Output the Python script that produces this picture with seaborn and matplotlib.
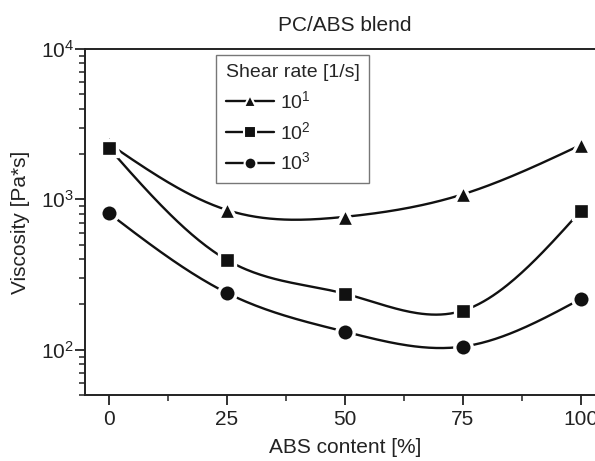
import numpy as np
import matplotlib
matplotlib.use("Agg")
import matplotlib.pyplot as plt
import seaborn as sns
from matplotlib.lines import Line2D
from matplotlib.ticker import LogLocator, FixedLocator, NullFormatter

# data
abs_content = [0, 25, 50, 75, 100]
visc_10 = [2350, 850, 765, 1080, 2300]
visc_100 = [2200, 396, 236, 182, 840]
visc_1000 = [810, 239, 132, 105, 218]
series_labels = [r"10$^1$", r"10$^2$", r"10$^3$"]
series_markers = ["^", "s", "o"]


def natural_spline(x, y, n=200):
    # natural cubic spline through the points (used for the smooth connecting line)
    x = np.asarray(x, float)
    y = np.asarray(y, float)
    k = len(x)
    h = np.diff(x)
    A = np.zeros((k, k))
    b = np.zeros(k)
    A[0, 0] = A[-1, -1] = 1
    for i in range(1, k - 1):
        A[i, i - 1] = h[i - 1]
        A[i, i] = 2 * (h[i - 1] + h[i])
        A[i, i + 1] = h[i]
        b[i] = 6 * ((y[i + 1] - y[i]) / h[i] - (y[i] - y[i - 1]) / h[i - 1])
    m = np.linalg.solve(A, b)
    xs = np.linspace(x[0], x[-1], n)
    idx = np.clip(np.searchsorted(x, xs) - 1, 0, k - 2)
    t = xs - x[idx]
    hi = h[idx]
    a = (m[idx + 1] - m[idx]) / (6 * hi)
    bb = m[idx] / 2
    c = (y[idx + 1] - y[idx]) / hi - hi * (2 * m[idx] + m[idx + 1]) / 6
    ys = y[idx] + c * t + bb * t ** 2 + a * t ** 3
    return xs, ys


sns.set_style("ticks")
plt.rcParams["font.family"] = ["Liberation Sans", "DejaVu Sans"]
plt.rcParams["mathtext.fontset"] = "custom"
plt.rcParams["mathtext.rm"] = "Liberation Sans"
plt.rcParams["mathtext.it"] = "Liberation Sans"

fig = plt.figure(figsize=(5.95, 4.61), dpi=100)
ax = fig.add_axes([0.143, 0.143, 0.873, 0.751])

msizes = {"^": 13, "s": 11.5, "o": 12.5}
handles = []
for vals, mk, lab in zip([visc_10, visc_100, visc_1000], series_markers, series_labels):
    xs, ys = natural_spline(abs_content, np.log10(vals))
    sns.lineplot(x=xs, y=10 ** ys, color="#111111", linewidth=1.7, ax=ax, sort=False)
    ax.plot(abs_content, vals, linestyle="none", marker=mk, markersize=msizes[mk],
            markerfacecolor="#111111", markeredgecolor="white", markeredgewidth=2.4, zorder=5)
    handles.append(Line2D([], [], color="#111111", linewidth=1.7, marker=mk, markersize=8.5,
                          markerfacecolor="#111111", markeredgecolor="white",
                          markeredgewidth=1.5, label=lab))

ax.set_yscale("log")
ax.set_ylim(50, 1e4)
ax.set_xlim(-5, 105)
ax.set_xticks([0, 25, 50, 75, 100])
ax.xaxis.set_minor_locator(FixedLocator([12.5, 37.5, 62.5, 87.5]))
ax.yaxis.set_major_locator(FixedLocator([1e2, 1e3, 1e4]))
ax.yaxis.set_minor_locator(LogLocator(base=10, subs=np.arange(2, 10)))
ax.yaxis.set_minor_formatter(NullFormatter())
ax.set_yticklabels([r"10$^2$", r"10$^3$", r"10$^4$"])

ax.tick_params(axis="both", which="major", direction="out", length=7, width=1.3,
               labelsize=15, color="#222222", labelcolor="#222222")
ax.tick_params(axis="y", which="major", pad=1)
ax.tick_params(axis="both", which="minor", direction="out", length=4, width=1.1, color="#222222")
for s in ax.spines.values():
    s.set_linewidth(1.4)
    s.set_color("#222222")
ax.spines["right"].set_visible(False)

ax.set_xlabel("ABS content [%]", fontsize=15, color="#222222", labelpad=7)
ax.set_ylabel("Viscosity [Pa*s]", fontsize=15, color="#222222", labelpad=8)
ax.set_title("PC/ABS blend", fontsize=15, color="#222222", pad=13)

leg = ax.legend(handles=handles, title="Shear rate [1/s]", loc="upper left",
                bbox_to_anchor=(0.252, 0.983), borderaxespad=0, fontsize=14, title_fontsize=14,
                frameon=True, fancybox=False, edgecolor="#555555", handlelength=2.5,
                handletextpad=0.3, labelspacing=0.45, borderpad=0.5, alignment="left")
leg.get_frame().set_linewidth(1.0)

fig.savefig("out.png", dpi=100)
